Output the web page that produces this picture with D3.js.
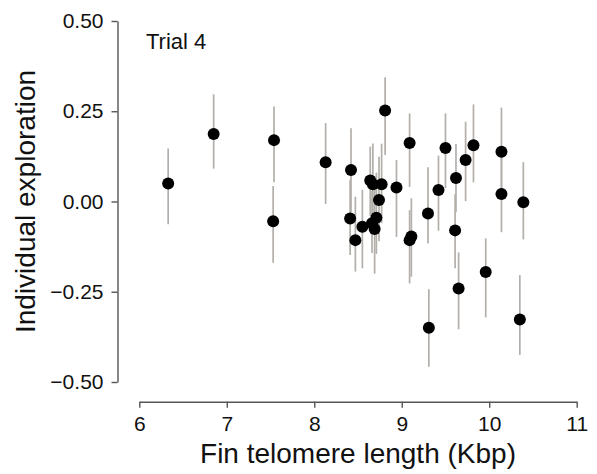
<!DOCTYPE html>
<html>
<head>
<meta charset="utf-8">
<script src="https://cdn.jsdelivr.net/npm/d3@7"></script>
<style>
  body { margin: 0; background: #fff; }
  svg { display: block; font-family: 'Liberation Sans', Arial, sans-serif; }
  .axis path, .axis line { stroke: #555; stroke-width: 1.4; }
  .axis text { fill: #111; font-size: 21px; }
</style>
</head>
<body>
<div id="chart"></div>
<script>
'use strict'

// fin telomere length (Kbp) per fish
const telomere = [6.33, 6.85, 7.54, 7.53, 8.13, 8.42, 8.41, 8.47, 8.55, 8.64, 8.67, 8.77,
  8.74, 8.71, 8.66, 8.69, 8.81, 8.94, 9.09, 9.11, 9.09, 9.30, 9.31, 9.42, 9.50, 9.62,
  9.61, 9.65, 9.73, 9.82, 9.96, 10.14, 10.14, 10.35, 10.39]
// individual exploration estimate
const exploration = [0.050, 0.187, 0.170, -0.055, 0.109, 0.087, -0.047, -0.107, -0.070, 0.058, 0.048, 0.048,
  0.004, -0.045, -0.060, -0.076, 0.252, 0.039, 0.162, -0.097, -0.107, -0.033, -0.350, 0.032, 0.148, 0.065,
  -0.080, -0.241, 0.115, 0.156, -0.195, 0.138, 0.021, -0.327, -0.002]
// interval bounds
const lower = [-0.063, 0.091, 0.053, -0.170, -0.007, -0.030, -0.148, -0.194, -0.185, -0.040, -0.060, -0.060,
  -0.110, -0.145, -0.143, -0.200, 0.129, -0.098, 0.040, -0.208, -0.227, -0.116, -0.458, -0.081, 0.037, -0.030,
  -0.185, -0.354, 0.001, 0.053, -0.321, 0.015, -0.085, -0.425, -0.105]
const upper = [0.147, 0.297, 0.263, 0.043, 0.217, 0.203, 0.060, 0.013, 0.032, 0.152, 0.161, 0.160,
  0.124, 0.080, 0.030, 0.050, 0.344, 0.115, 0.244, 0.009, -0.024, 0.095, -0.243, 0.127, 0.244, 0.159,
  0.020, -0.141, 0.221, 0.269, -0.102, 0.260, 0.125, -0.204, 0.109]

const xTicks = [6, 7, 8, 9, 10, 11]
const yTicks = [-0.5, -0.25, 0, 0.25, 0.5]

const width = 597
const height = 474

const svg = d3.select('#chart')
  .append('svg')
  .attr('width', width)
  .attr('height', height)

const x = d3.scaleLinear().domain([6, 11]).range([139.3, 576.7])
const y = d3.scaleLinear().domain([-0.5, 0.5]).range([382, 21])

const data = telomere.map((t, i) => ({ t, e: exploration[i], lo: lower[i], hi: upper[i] }))

// error bars first, points on top
svg.append('g')
  .selectAll('line')
  .data(data)
  .join('line')
  .attr('x1', d => x(d.t))
  .attr('x2', d => x(d.t))
  .attr('y1', d => y(d.lo))
  .attr('y2', d => y(d.hi))
  .attr('stroke', '#b3afaa')
  .attr('stroke-width', 1.7)

svg.append('g')
  .selectAll('circle')
  .data(data)
  .join('circle')
  .attr('cx', d => x(d.t))
  .attr('cy', d => y(d.e))
  .attr('r', 6)
  .attr('fill', '#000')

// axes, offset R style
svg.append('g')
  .attr('class', 'axis')
  .attr('transform', 'translate(117.5,0)')
  .call(d3.axisLeft(y).tickValues(yTicks).tickFormat(d3.format('.2f'))
    .tickSize(6).tickSizeOuter(0).tickPadding(8))

svg.append('g')
  .attr('class', 'axis')
  .attr('transform', 'translate(0,401.7)')
  .call(d3.axisBottom(x).tickValues(xTicks).tickFormat(d3.format('d'))
    .tickSize(6).tickSizeOuter(0).tickPadding(8))

svg.selectAll('.axis .domain').attr('fill', 'none')

svg.append('text')
  .attr('x', 358)
  .attr('y', 463)
  .attr('text-anchor', 'middle')
  .style('font-size', '28px')
  .attr('fill', '#111')
  .text('Fin telomere length (Kbp)')

svg.append('text')
  .attr('transform', `translate(35,${y(0)}) rotate(-90)`)
  .attr('text-anchor', 'middle')
  .style('font-size', '28px')
  .attr('fill', '#111')
  .text('Individual exploration')

svg.append('text')
  .attr('x', 146)
  .attr('y', 49)
  .style('font-size', '22px')
  .attr('fill', '#111')
  .text('Trial 4')
</script>
</body>
</html>
